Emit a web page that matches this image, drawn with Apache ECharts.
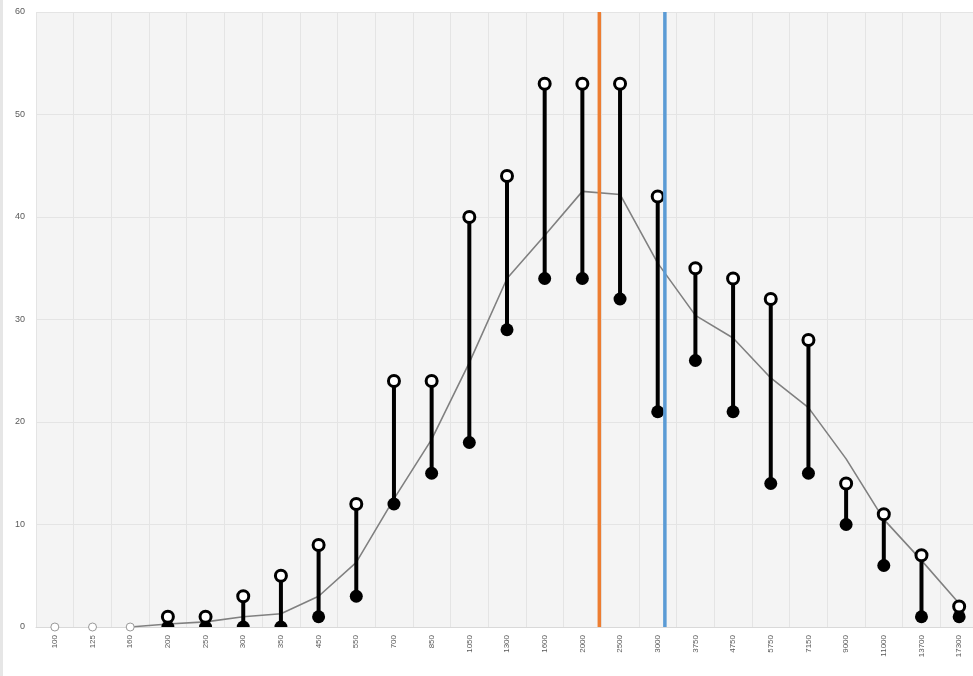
<!DOCTYPE html>
<html>
<head>
<meta charset="utf-8">
<script src="https://cdn.jsdelivr.net/npm/echarts@6/dist/echarts.min.js"></script>
<style>html,body{margin:0;padding:0;background:#fff;overflow:hidden}#c{width:980px;height:676px}</style>
</head>
<body>
<div id="c"></div>
<script>
const categories = ['100','125','160','200','250','300','350','450','550','700','850','1050','1300','1600','2000','2500','3000','3750','4750','5750','7150','9000','11000','13700','17300'];
const highValues = [null,null,null,1,1,3,5,8,12,24,24,40,44,53,53,53,42,35,34,32,28,14,11,7,2];
const lowValues  = [null,null,null,0,0,0,0,1,3,12,15,18,29,34,34,32,21,26,21,14,15,10,6,1,1];
const zeroPoints = [0,0,0,null,null,null,null,null,null,null,null,null,null,null,null,null,null,null,null,null,null,null,null,null,null];
const avgValues  = [null,null,0,0.3,0.5,1,1.3,3,6.3,12.5,18.3,25.8,34,38.2,42.5,42.2,35.5,30.4,28.2,24.3,21.4,16.4,10.5,6.5,2.3];
const orangeLinePos = 14.45;
const blueLinePos = 16.19;
const yTicks = [0,10,20,30,40,50,60];

const stemData = categories.map((c, i) => lowValues[i] == null ? null : [i, lowValues[i], highValues[i]]).filter(d => d);

const chart = echarts.init(document.getElementById('c'));
chart.setOption({
  animation: false,
  backgroundColor: '#fff',
  graphic: [
    {type:'rect', left:0, top:0, z: 1, shape:{width:3, height:676}, style:{fill:'#e6e6e6'}}
  ],
  grid: {left: 36, top: 12, width: 942, height: 615, show: true, backgroundColor: '#f4f4f4', borderWidth: 0},
  xAxis: [{
    type: 'category', data: categories, boundaryGap: true,
    axisLine: {show: true, lineStyle: {color: '#d9d9d9'}},
    axisTick: {show: false},
    splitLine: {show: true, interval: 0, lineStyle: {color: '#e4e4e4', width: 1}},
    axisLabel: {rotate: 90, fontSize: 8, color: '#595959', margin: 8, interval: 0, fontFamily: 'Liberation Sans'}
  }, {
    type: 'value', min: -0.5, max: categories.length - 0.5, show: false
  }],
  yAxis: {
    type: 'value', min: yTicks[0], max: yTicks[yTicks.length-1], interval: 10,
    axisLine: {show: false}, axisTick: {show: false},
    splitLine: {lineStyle: {color: '#e4e4e4', width: 1}},
    axisLabel: {fontSize: 9, color: '#595959', margin: 11, fontFamily: 'Liberation Sans'}
  },
  series: [
    {
      type: 'line', data: avgValues, xAxisIndex: 0, showSymbol: false, symbol: 'none',
      lineStyle: {color: '#808080', width: 1.6}, z: 2
    },
    {
      type: 'custom', xAxisIndex: 0, z: 3,
      data: stemData,
      renderItem: function (params, api) {
        const i = api.value(0);
        const p1 = api.coord([i, api.value(1)]);
        const p2 = api.coord([i, api.value(2)]);
        const cs = params.coordSys;
        return {type: 'group',
          clipPath: {type: 'rect', shape: {x: cs.x - 20, y: cs.y - 20, width: cs.width + 40, height: cs.height + 20}},
          children: [
          {type: 'line', shape: {x1: p1[0], y1: p1[1], x2: p2[0], y2: p2[1]}, style: {stroke: '#000', lineWidth: 4}},
          {type: 'circle', shape: {cx: p1[0], cy: p1[1], r: 6.5}, style: {fill: '#000'}}
        ]};
      }
    },
    {
      type: 'scatter', data: highValues, xAxisIndex: 0, symbol: 'circle', symbolSize: 11, z: 4,
      itemStyle: {color: '#fff', borderColor: '#000', borderWidth: 3, opacity: 1}
    },
    {
      type: 'scatter', data: zeroPoints, xAxisIndex: 0, symbol: 'circle', symbolSize: 8, z: 15,
      itemStyle: {color: '#fff', borderColor: '#999', borderWidth: 1, opacity: 1}
    },
    {
      type: 'line', xAxisIndex: 1, data: [[orangeLinePos, 0], [orangeLinePos, 60]], symbol: 'none',
      lineStyle: {color: '#ED7D31', width: 3.5}, z: 5
    },
    {
      type: 'line', xAxisIndex: 1, data: [[blueLinePos, 0], [blueLinePos, 60]], symbol: 'none',
      lineStyle: {color: '#5B9BD5', width: 3.5}, z: 5
    }
  ]
});
</script>
</body>
</html>
